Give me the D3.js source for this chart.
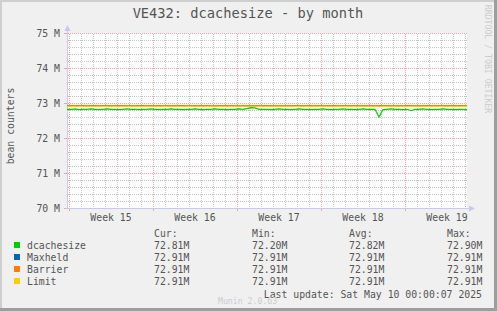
<!DOCTYPE html>
<html>
<head>
<meta charset="utf-8">
<script src="https://cdn.jsdelivr.net/npm/d3@7"></script>
<style>
  body { margin: 0; background: #f0f0f0; }
  svg text { font-family: "DejaVu Sans Mono", monospace; }
</style>
</head>
<body>
<div id="panel"></div>
<script>
var w = 497;
var h = 311;

// data
var title = 'VE432: dcachesize - by month';
var yLabel = 'bean counters';
var yTicks = [70, 71, 72, 73, 74, 75];
var weekStarts = ['2025-04-07', '2025-04-14', '2025-04-21', '2025-04-28', '2025-05-05'];
var weekLabels = ['Week 15', 'Week 16', 'Week 17', 'Week 18', 'Week 19'];
var startTime = '2025-04-06T20:00:00Z';
var endTime = '2025-05-10T04:00:00Z';
var stepHours = 8;
var dcachesize = [
  72.82, 72.82, 72.83, 72.81, 72.82, 72.82, 72.83, 72.82, 72.81, 72.82,
  72.83, 72.82, 72.82, 72.81, 72.82, 72.83, 72.82, 72.82, 72.81, 72.82,
  72.82, 72.83, 72.82, 72.81, 72.82, 72.82, 72.83, 72.82, 72.82, 72.81,
  72.82, 72.82, 72.83, 72.82, 72.81, 72.82, 72.82, 72.83, 72.82, 72.82,
  72.81, 72.82, 72.82, 72.83, 72.82, 72.84, 72.87, 72.86, 72.82, 72.82,
  72.82, 72.81, 72.82, 72.83, 72.82, 72.82, 72.81, 72.82, 72.83, 72.82,
  72.82, 72.81, 72.82, 72.82, 72.83, 72.82, 72.81, 72.82, 72.82, 72.83,
  72.82, 72.82, 72.81, 72.82, 72.83, 72.82, 72.82, 72.82, 72.60, 72.81,
  72.82, 72.83, 72.82, 72.82, 72.81, 72.82, 72.78, 72.82, 72.82, 72.83,
  72.82, 72.81, 72.82, 72.82, 72.83, 72.82, 72.82, 72.81, 72.82, 72.82,
  72.81
];
var maxheld = [72.91, 72.91];
var barrier = [72.94, 72.94];
var limit = [72.91, 72.91];

var seriesNames = ['dcachesize', 'Maxheld', 'Barrier', 'Limit'];
var seriesColors = ['#00cc00', '#0066b3', '#ff8000', '#ffcc00'];
var legendHeaders = ['Cur:', 'Min:', 'Avg:', 'Max:'];
var legendCur = ['72.81M', '72.91M', '72.91M', '72.91M'];
var legendMin = ['72.20M', '72.91M', '72.91M', '72.91M'];
var legendAvg = ['72.82M', '72.91M', '72.91M', '72.91M'];
var legendMax = ['72.90M', '72.91M', '72.91M', '72.91M'];
var lastUpdate = 'Last update: Sat May 10 00:00:07 2025';

var t0 = new Date(startTime);
var t1 = new Date(endTime);

var svg = d3.select('#panel').append('svg')
  .attr('width', w).attr('height', h);

// dotted patterns for the grid (1px on, 1px off)
var defs = svg.append('defs');
function dots(id, color, horiz) {
  var p = defs.append('pattern').attr('id', id).attr('patternUnits', 'userSpaceOnUse')
    .attr('width', horiz ? 2 : 1).attr('height', horiz ? 1 : 2);
  p.append('rect').attr('width', 1).attr('height', 1).attr('fill', color);
}
dots('minH', '#c4c4c4', true);
dots('minV', '#c4c4c4', false);
dots('majH', '#f0a4a4', true);
dots('majV', '#f0a4a4', false);

// frame
svg.append('rect').attr('width', w).attr('height', h).attr('fill', '#f0f0f0');
svg.append('rect').attr('x', 0).attr('y', 0).attr('width', w).attr('height', 2).attr('fill', '#cfcfcf');
svg.append('rect').attr('x', 0).attr('y', 0).attr('width', 2).attr('height', h).attr('fill', '#cfcfcf');
svg.append('rect').attr('x', w - 3).attr('y', 0).attr('width', 3).attr('height', h).attr('fill', '#9e9e9e');
svg.append('rect').attr('x', 0).attr('y', h - 3).attr('width', w).attr('height', 3).attr('fill', '#9e9e9e');

var x = d3.scaleUtc().domain([t0, t1]).range([67, 467]);
var y = d3.scaleLinear().domain([70, 75]).range([208, 33]);

svg.append('rect').attr('x', 67).attr('y', 33).attr('width', 400).attr('height', 175).attr('fill', '#ffffff');

// minor grid
var days = d3.utcDay.range(t0, t1);
svg.selectAll('.vminor').data(days).enter().append('rect')
  .attr('x', function (d) { return Math.round(x(d)); })
  .attr('y', 33).attr('width', 1).attr('height', 175)
  .attr('fill', 'url(#minV)');
var minorY = d3.range(0, 26).map(function (i) { return 70 + i * 0.2; });
svg.selectAll('.hminor').data(minorY).enter().append('rect')
  .attr('x', 68).attr('y', function (d) { return Math.round(y(d)); })
  .attr('width', 400).attr('height', 1)
  .attr('fill', 'url(#minH)');

// major grid
var weeks = weekStarts.map(function (s) { return new Date(s + 'T00:00:00Z'); });
svg.selectAll('.vmajor').data(weeks).enter().append('rect')
  .attr('x', function (d) { return Math.round(x(d)); })
  .attr('y', 33).attr('width', 1).attr('height', 175)
  .attr('fill', 'url(#majV)');
svg.selectAll('.vtick').data(weeks).enter().append('rect')
  .attr('x', function (d) { return Math.round(x(d)); })
  .attr('y', 208).attr('width', 1).attr('height', 3)
  .attr('fill', '#f0a4a4');
svg.selectAll('.hmajor').data(yTicks).enter().append('rect')
  .attr('x', 68).attr('y', function (d) { return Math.round(y(d)); })
  .attr('width', 400).attr('height', 1)
  .attr('fill', 'url(#majH)');
svg.selectAll('.htick').data(yTicks).enter().append('rect')
  .attr('x', 64).attr('y', function (d) { return Math.round(y(d)); })
  .attr('width', 3).attr('height', 1)
  .attr('fill', '#f0a4a4');

// axes
svg.append('rect').attr('x', 67).attr('y', 29).attr('width', 1).attr('height', 180).attr('fill', '#c8c8f0');
svg.append('rect').attr('x', 66).attr('y', 208).attr('width', 404).attr('height', 1).attr('fill', '#c8c8f0');
svg.append('path').attr('d', 'M64.5,31 L70.5,31 L67.5,25 Z').attr('fill', '#c8c8f0');
svg.append('path').attr('d', 'M469,205.5 L469,211.5 L475,208.5 Z').attr('fill', '#c8c8f0');

// series
var line = d3.line()
  .x(function (d, i) { return x(new Date(t0.getTime() + i * stepHours * 3600e3)); })
  .y(function (d) { return y(d); });
var flat = d3.line()
  .x(function (d, i) { return x(i === 0 ? t0 : t1); })
  .y(function (d) { return Math.round(y(d)) + 0.5; });

svg.append('path').datum(dcachesize).attr('d', line)
  .attr('fill', 'none').attr('stroke', seriesColors[0]).attr('stroke-width', 1.2);
[maxheld, barrier, limit].forEach(function (s, i) {
  svg.append('path').datum(s).attr('d', flat)
    .attr('fill', 'none').attr('stroke', seriesColors[i + 1]).attr('stroke-width', 1)
    .attr('shape-rendering', 'crispEdges');
});

// labels
svg.append('text').attr('x', 248).attr('y', 18).attr('text-anchor', 'middle')
  .attr('font-size', '13.7px').attr('fill', '#555').text(title);

svg.selectAll('.ylab').data(yTicks).enter().append('text')
  .attr('x', 60).attr('y', function (d) { return y(d) + 3.6; })
  .attr('text-anchor', 'end').attr('font-size', '9.8px').attr('fill', '#555')
  .text(function (d) { return d + ' M'; });

svg.selectAll('.xlab').data(weeks).enter().append('text')
  .attr('x', function (d) { return x(new Date(d.getTime() + 3.5 * 864e5)); })
  .attr('y', 221).attr('text-anchor', 'middle').attr('font-size', '9.8px').attr('fill', '#555')
  .text(function (d, i) { return weekLabels[i]; });

svg.append('text').attr('transform', 'translate(14,126) rotate(-90)')
  .attr('text-anchor', 'middle').attr('font-size', '9.8px').attr('fill', '#555').text(yLabel);

svg.append('text').attr('transform', 'translate(485,59) rotate(90)')
  .attr('text-anchor', 'middle').attr('font-size', '8.2px').attr('fill', '#cccccc')
  .text('RRDTOOL / TOBI OETIKER');

// legend
var colX = [154, 252, 349, 447];
svg.selectAll('.hdr').data(legendHeaders).enter().append('text')
  .attr('x', function (d, i) { return colX[i]; }).attr('y', 236.5)
  .attr('font-size', '9.8px').attr('fill', '#555').text(function (d) { return d; });

var rows = svg.selectAll('.row').data(seriesNames).enter().append('g')
  .attr('transform', function (d, i) { return 'translate(0,' + (245 + i * 12) + ')'; });
rows.append('rect').attr('x', 14).attr('y', -3).attr('width', 6).attr('height', 6)
  .attr('fill', function (d, i) { return seriesColors[i]; });
rows.append('text').attr('x', 27).attr('y', 3.5).attr('font-size', '9.8px').attr('fill', '#555')
  .text(function (d) { return d; });
[legendCur, legendMin, legendAvg, legendMax].forEach(function (col, c) {
  rows.append('text').attr('x', colX[c]).attr('y', 3.5).attr('font-size', '9.8px').attr('fill', '#555')
    .text(function (d, i) { return col[i]; });
});

svg.append('text').attr('x', 482).attr('y', 297.5).attr('text-anchor', 'end')
  .attr('font-size', '9.8px').attr('fill', '#555').text(lastUpdate);
svg.append('text').attr('x', 218).attr('y', 304).attr('font-size', '8.2px').attr('fill', '#cccccc')
  .text('Munin 2.0.63');
</script>
</body>
</html>
